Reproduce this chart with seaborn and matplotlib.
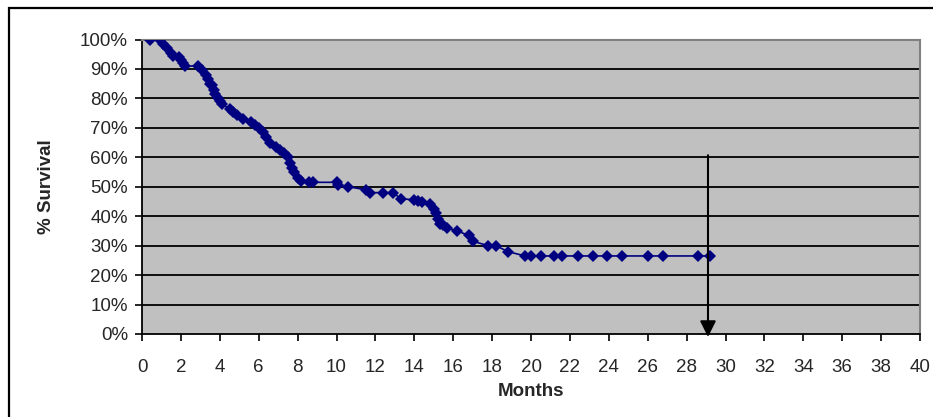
import matplotlib
matplotlib.use('Agg')
from matplotlib import pyplot as plt
from matplotlib.ticker import FuncFormatter, MultipleLocator
import seaborn as sns

# Survival data (months, % survival)
months = [0.4, 0.9, 1.1, 1.3, 1.5, 1.6, 1.9, 2.0, 2.1, 2.2,
          2.9, 3.1, 3.3, 3.4, 3.5, 3.6, 3.7, 3.75, 3.9, 4.0,
          4.1, 4.5, 4.7, 4.9, 5.2, 5.6, 5.8, 6.0, 6.2, 6.4,
          6.6, 6.9, 7.1, 7.3, 7.5, 7.6, 7.7, 7.8, 8.0, 8.2,
          8.6, 8.8, 10.0, 10.1, 10.6, 11.5, 11.7, 12.4, 12.9, 13.3,
          14.0, 14.2, 14.4, 14.8, 15.0, 15.1, 15.2, 15.3, 15.5, 15.7,
          16.2, 16.8, 17.0, 17.8, 18.2, 18.8, 19.7, 20.0, 20.5, 21.2,
          21.6, 22.4, 23.2, 23.9, 24.7, 26.0, 26.8, 28.6, 29.2]
survival = [100, 100, 98.5, 97, 95.5, 94.5, 94, 93, 92, 91,
            91, 89.5, 88, 86.5, 85, 84.5, 83, 81.5, 80, 79,
            78, 76.5, 75.5, 74.5, 73, 72, 71, 70, 68.5, 67,
            65, 63.5, 62.5, 61.5, 60, 58, 56.5, 55, 53, 52,
            51.5, 51.5, 51.5, 50.5, 50, 49, 48, 48, 48, 46,
            45.5, 45, 44.7, 44, 42.5, 41, 39, 37.5, 37, 36,
            35, 33.5, 31.5, 30, 30, 28, 26.5, 26.5, 26.5, 26.5,
            26.5, 26.5, 26.5, 26.5, 26.5, 26.5, 26.5, 26.5, 26.5]

# arrow marking the end of follow-up
arrow_month = 29.1
arrow_top = 60.7
arrow_tip = -1.0

sns.set_style('white')
plt.rcParams['font.family'] = ['Liberation Sans', 'DejaVu Sans']

fig = plt.figure(figsize=(9.33, 4.17), dpi=100)
ax = fig.add_axes([142 / 933, 83 / 417, 778 / 933, 294.5 / 417])

# outer chart frame (runs off the right and bottom edges)
frame = plt.Rectangle((9 / 933, -0.1), 1.2, 1.1 - 8 / 417, transform=fig.transFigure,
                      fill=False, edgecolor='black', linewidth=1.6)
fig.patches.append(frame)

ax.set_facecolor('#C0C0C0')
for y in range(10, 100, 10):
    ax.axhline(y, color='black', linewidth=1.3, zorder=1)

sns.lineplot(x=months, y=survival, ax=ax, color='#000080', marker='D',
             markersize=6, markeredgewidth=0, linewidth=1.2,
             sort=False, estimator=None, zorder=3)

ax.annotate('', xy=(arrow_month, arrow_tip), xytext=(arrow_month, arrow_top),
            arrowprops=dict(arrowstyle='-|>', color='black', lw=1.5,
                            mutation_scale=24, shrinkA=0, shrinkB=0),
            annotation_clip=False, zorder=5)

ax.set_xlim(0, 40)
ax.set_ylim(0, 100)
ax.xaxis.set_major_locator(MultipleLocator(2))
ax.yaxis.set_major_locator(MultipleLocator(10))
ax.yaxis.set_major_formatter(FuncFormatter(lambda v, p: f'{v:.0f}%'))
ax.tick_params(axis='both', direction='out', length=5, width=1.2, color='black',
               labelsize=13.5, bottom=True, left=True)
ax.tick_params(axis='x', pad=13)
ax.tick_params(axis='y', pad=5)

ax.spines['left'].set_color('black')
ax.spines['bottom'].set_color('black')
ax.spines['left'].set_linewidth(1.3)
ax.spines['bottom'].set_linewidth(1.3)
ax.spines['top'].set_color('#808080')
ax.spines['right'].set_color('#808080')
ax.spines['top'].set_linewidth(1.5)
ax.spines['right'].set_linewidth(1.5)

ax.set_xlabel('Months', fontsize=13.5, fontweight='bold', labelpad=5)
ax.set_ylabel('% Survival', fontsize=13.5, fontweight='bold', labelpad=18)

fig.savefig('out.png', dpi=100)
